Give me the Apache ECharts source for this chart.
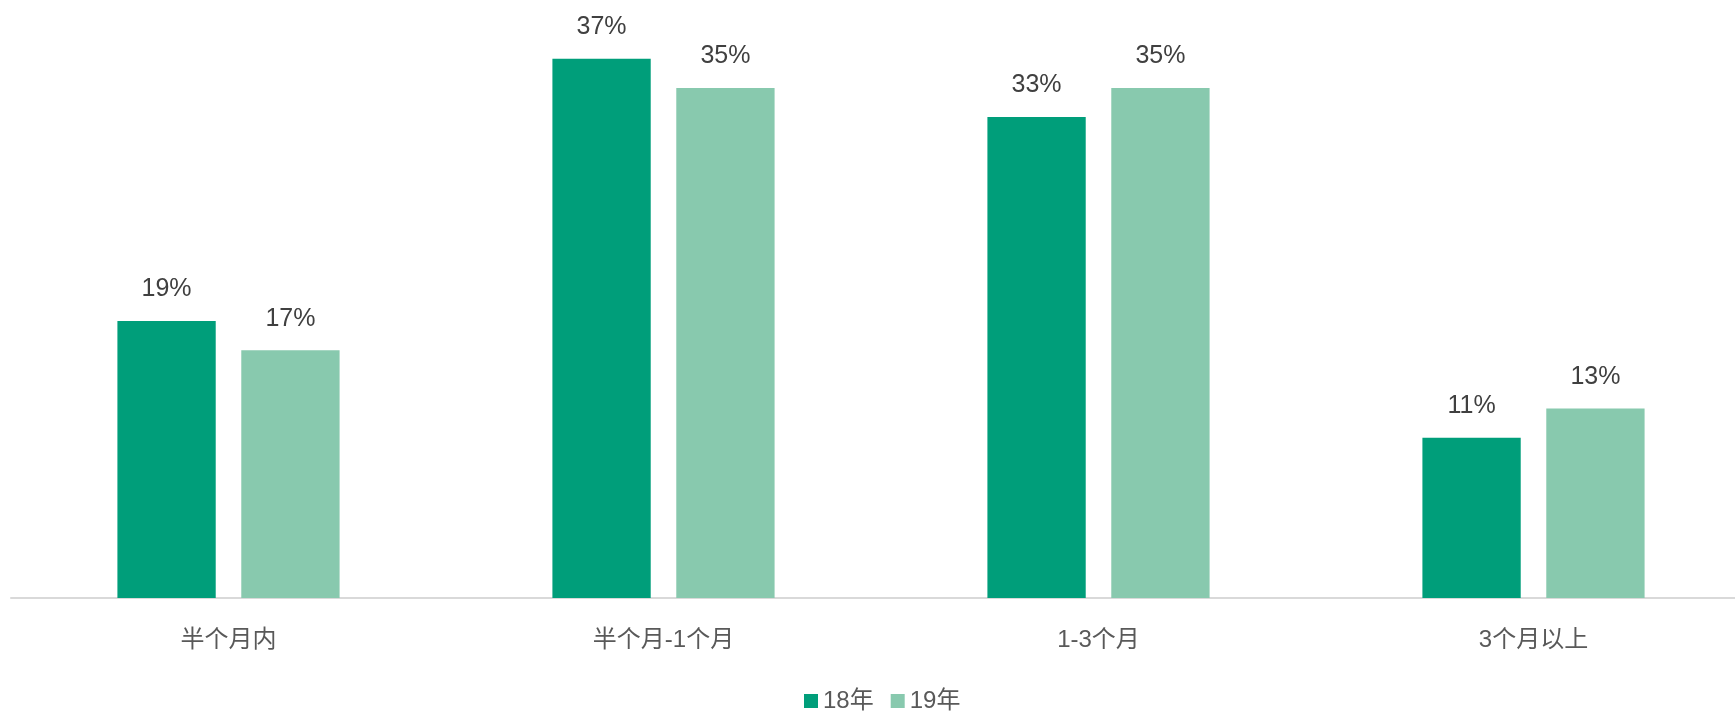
<!DOCTYPE html>
<html><head><meta charset="utf-8">
<script src="https://cdn.jsdelivr.net/npm/echarts@6/dist/echarts.min.js"></script>
<style>html,body{margin:0;padding:0;background:#fff}#c{width:1735px;height:712px}</style>
</head><body><div id="c"></div>
<script>
const categories = ['半个月内', '半个月-1个月', '1-3个月', '3个月以上'];
const seriesNames = ['18年', '19年'];
const values18 = [19, 37, 33, 11];
const values19 = [17, 35, 35, 13];
const FONT = '"Liberation Sans", Arial, "Noto Sans CJK SC", sans-serif';
const chart = echarts.init(document.getElementById('c'));
const label = {show: true, position: 'top', distance: 19, formatter: '{c}%', color: '#404040', fontSize: 25, fontFamily: FONT};
chart.setOption({
  animation: false,
  grid: {left: 11, width: 1740, top: 15, bottom: 114, outerBoundsMode: 'none', containLabel: false},
  legend: {data: seriesNames, left: 799, top: 684, itemWidth: 14, itemHeight: 14, itemGap: 17,
    icon: 'rect', textStyle: {color: '#595959', fontSize: 24, fontFamily: FONT}},
  xAxis: {type: 'category', data: categories,
    axisLine: {lineStyle: {color: '#D9D9D9', width: 2}}, axisTick: {show: false},
    axisLabel: {color: '#595959', fontSize: 24, fontFamily: FONT, margin: 30}},
  yAxis: {type: 'value', min: 0, max: 40, show: false, splitLine: {show: false}},
  series: [
    {name: seriesNames[0], type: 'bar', data: values18, barWidth: '22.6%', barGap: '26%',
     itemStyle: {color: '#009E7A'}, label: label},
    {name: seriesNames[1], type: 'bar', data: values19, barWidth: '22.6%',
     itemStyle: {color: '#88C9AE'}, label: label}
  ]
});
</script></body></html>
